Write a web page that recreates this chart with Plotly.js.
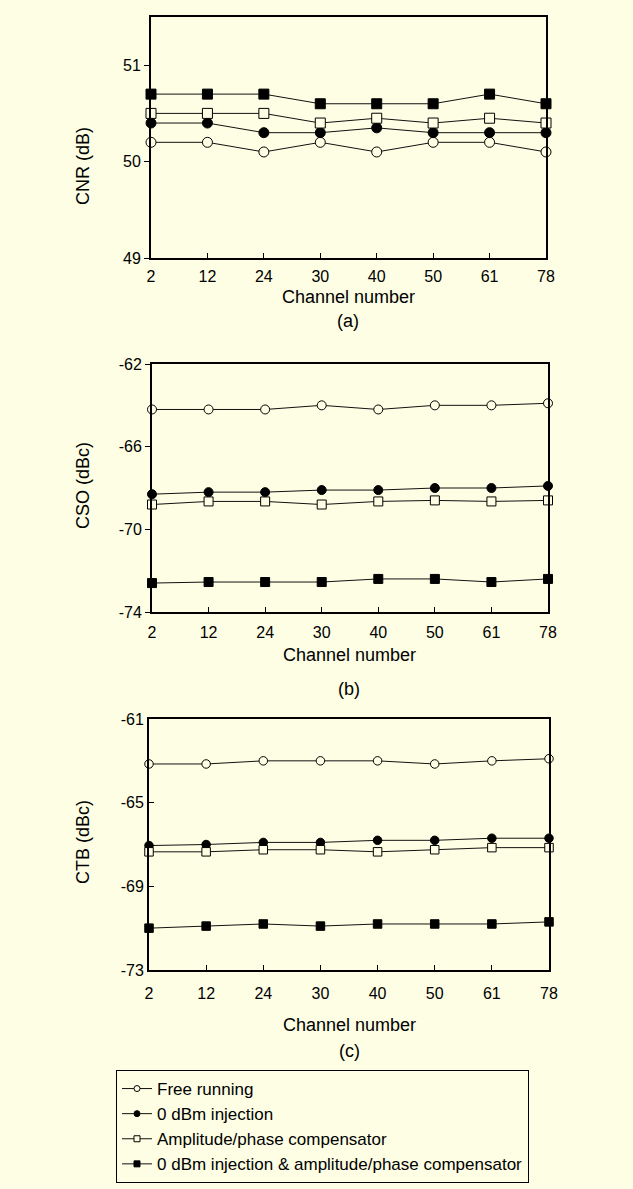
<!DOCTYPE html>
<html>
<head>
<meta charset="utf-8">
<script src="https://cdn.plot.ly/plotly-3.0.1.min.js"></script>
<style>html,body{margin:0;padding:0;background:#FEFEE4;}</style>
</head>
<body>
<div id="chart" style="width:633px;height:1189px;"></div>
<script>
// ---- data ----
const channels = ['2', '12', '24', '30', '40', '50', '61', '78'];
const seriesNames = ['Free running', '0 dBm injection', 'Amplitude/phase compensator', '0 dBm injection & amplitude/phase compensator'];

// (a) CNR (dB)
const cnrFree     = [50.2, 50.2, 50.1, 50.2, 50.1, 50.2, 50.2, 50.1];
const cnrInj      = [50.4, 50.4, 50.3, 50.3, 50.35, 50.3, 50.3, 50.3];
const cnrComp     = [50.5, 50.5, 50.5, 50.4, 50.45, 50.4, 50.45, 50.4];
const cnrInjComp  = [50.7, 50.7, 50.7, 50.6, 50.6, 50.6, 50.7, 50.6];

// (b) CSO (dBc)
const csoFree     = [-64.2, -64.2, -64.2, -64.0, -64.2, -64.0, -64.0, -63.9];
const csoInj      = [-68.3, -68.2, -68.2, -68.1, -68.1, -68.0, -68.0, -67.9];
const csoComp     = [-68.8, -68.65, -68.65, -68.8, -68.65, -68.6, -68.65, -68.6];
const csoInjComp  = [-72.6, -72.55, -72.55, -72.55, -72.4, -72.4, -72.55, -72.4];

// (c) CTB (dBc)
const ctbFree     = [-63.15, -63.15, -63.0, -63.0, -63.0, -63.15, -63.0, -62.9];
const ctbInj      = [-67.05, -67.0, -66.9, -66.9, -66.8, -66.8, -66.7, -66.7];
const ctbComp     = [-67.35, -67.35, -67.25, -67.25, -67.35, -67.25, -67.15, -67.15];
const ctbInjComp  = [-71.0, -70.9, -70.8, -70.9, -70.8, -70.8, -70.8, -70.7];

const yTickA = [49, 50, 51];
const yTickTextA = ['49', '50', '51'];
const yTickB = [-74, -70, -66, -62];
const yTickTextB = ['-74', '-70', '-66', '-62'];
const yTickC = [-73, -69, -65, -61];
const yTickTextC = ['-73', '-69', '-65', '-61'];

// ---- styles ----
const BG = '#FEFEE4';
const FONT = 'Liberation Sans, Arial, Helvetica, sans-serif';
const markerStyles = [
  {symbol: 'circle', color: BG, line: {color: '#000', width: 1}},
  {symbol: 'circle', color: '#000', line: {color: '#000', width: 1}},
  {symbol: 'square', color: BG, line: {color: '#000', width: 1}},
  {symbol: 'square', color: '#000', line: {color: '#000', width: 1}}
];

const panels = [
  {vals: [cnrFree, cnrInj, cnrComp, cnrInjComp], xa: 'x', ya: 'y', size: 10},
  {vals: [csoFree, csoInj, csoComp, csoInjComp], xa: 'x2', ya: 'y2', size: 9},
  {vals: [ctbFree, ctbInj, ctbComp, ctbInjComp], xa: 'x3', ya: 'y3', size: 8.5}
];

const traces = [];
panels.forEach(p => {
  p.vals.forEach((v, i) => {
    traces.push({
      type: 'scatter', mode: 'lines+markers',
      x: channels, y: v, xaxis: p.xa, yaxis: p.ya,
      name: seriesNames[i], showlegend: false,
      line: {color: '#111', width: 1},
      marker: Object.assign({size: p.size}, markerStyles[i]),
      cliponaxis: false, hoverinfo: 'x+y'
    });
  });
});
// legend entries (small markers as in the reference legend)
seriesNames.forEach((n, i) => {
  traces.push({
    type: 'scatter', mode: 'lines+markers',
    x: [null], y: [null], xaxis: 'x3', yaxis: 'y3',
    name: n, showlegend: true,
    line: {color: '#111', width: 1},
    marker: Object.assign({size: 6}, markerStyles[i])
  });
});

const W = 633, H = 1189;
function px2x(px) { return px / W; }
function px2y(px) { return 1 - px / H; }

function xAxis(dom, anchor, standoff) {
  return {
    type: 'category', domain: dom, anchor: anchor, range: [0, 7],
    showline: true, linewidth: 2, linecolor: '#000', mirror: true,
    ticks: 'inside', ticklen: 5, tickwidth: 1, tickcolor: '#000',
    showgrid: false, zeroline: false, ticklabelstandoff: standoff,
    tickfont: {family: FONT, size: 16, color: '#000'}, fixedrange: true
  };
}
function yAxis(dom, anchor, range, tv, tt, ticks) {
  return {
    domain: dom, anchor: anchor, range: range, tickvals: tv, ticktext: tt,
    showline: true, linewidth: 2, linecolor: '#000', mirror: true,
    ticks: ticks, ticklen: 5, tickwidth: 1, tickcolor: '#000',
    showgrid: false, zeroline: false,
    tickfont: {family: FONT, size: 16, color: '#000'}, fixedrange: true
  };
}

function ann(text, xpx, ypx, rot) {
  return {
    text: text, xref: 'paper', yref: 'paper', x: px2x(xpx), y: px2y(ypx),
    xanchor: 'center', yanchor: 'middle', showarrow: false, textangle: rot || 0,
    font: {family: FONT, size: 18, color: '#000'}
  };
}

const layout = {
  width: W, height: H,
  margin: {l: 0, r: 0, t: 0, b: 0},
  paper_bgcolor: BG, plot_bgcolor: BG,
  font: {family: FONT, color: '#000'},
  xaxis:  xAxis([px2x(151), px2x(546)], 'y', 3),
  yaxis:  yAxis([px2y(258), px2y(17)], 'x', [49, 51.5], yTickA, yTickTextA, 'outside'),
  xaxis2: xAxis([px2x(152), px2x(548)], 'y2', 5),
  yaxis2: yAxis([px2y(612), px2y(364)], 'x2', [-74, -62], yTickB, yTickTextB, 'outside'),
  xaxis3: xAxis([px2x(149), px2x(549)], 'y3', 8),
  yaxis3: yAxis([px2y(970), px2y(719)], 'x3', [-73, -61], yTickC, yTickTextC, 'inside'),
  annotations: [
    ann('CNR (dB)', 83, 166, -90),
    ann('Channel number', 348, 297),
    ann('(a)', 348, 321),
    ann('CSO (dBc)', 83, 486, -90),
    ann('Channel number', 349, 655),
    ann('(b)', 349, 689),
    ann('CTB (dBc)', 83, 842, -90),
    ann('Channel number', 349, 1025),
    ann('(c)', 349, 1051)
  ],
  showlegend: true,
  legend: {
    x: px2x(116), y: px2y(1070), xanchor: 'left', yanchor: 'top',
    bgcolor: BG, bordercolor: '#000', borderwidth: 1,
    font: {family: FONT, size: 17, color: '#000'},
    tracegroupgap: 0, itemclick: false, itemdoubleclick: false
  }
};

Plotly.newPlot('chart', traces, layout, {displayModeBar: false, staticPlot: true});
</script>
</body>
</html>
